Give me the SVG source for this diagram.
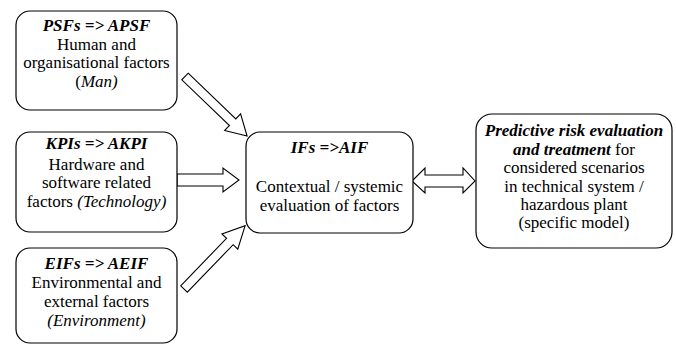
<svg xmlns="http://www.w3.org/2000/svg" width="676" height="345" viewBox="0 0 676 345">
<style>
.box{fill:#fff;stroke:#000;stroke-width:1.2}
.arr{fill:#fff;stroke:#000;stroke-width:1.1;stroke-linejoin:miter}
text{font-family:'Liberation Serif','Times New Roman',serif;font-size:17px;fill:#000;text-anchor:middle}
.bi{font-weight:bold;font-style:italic}
.i{font-style:italic}
</style>
<rect width="676" height="345" fill="#fff"/>
<g id="connectors">
<polygon class="arr" transform="translate(185,76.5) rotate(43.8)" points="0,-4.6 66,-4.6 66,-11.5 86,0 66,11.5 66,4.6 0,4.6"/>
<polygon class="arr" points="177,174 223,174 223,168 239,180 223,192 223,186 177,186"/>
<polygon class="arr" transform="translate(184,289) rotate(-46)" points="0,-4.6 66,-4.6 66,-11 88,0 66,11 66,4.6 0,4.6"/>
<polygon class="arr" points="412,181 425,168 425,175 463,175 463,168 475,181 463,193 463,187 425,187 425,193"/>
</g>
<g id="psf">
<rect class="box" x="16" y="11" width="161" height="99" rx="14"/>
<text x="96.5" y="31"><tspan class="bi">PSFs =&gt; APSF</tspan></text>
<text x="96.5" y="50">Human and</text>
<text x="96.5" y="68">organisational factors</text>
<text x="96.5" y="87">(<tspan class="i">Man)</tspan></text>
</g>
<g id="kpi">
<rect class="box" x="16" y="132" width="161" height="100" rx="14"/>
<text x="96.5" y="149"><tspan class="bi">KPIs =&gt; AKPI</tspan></text>
<text x="96.5" y="170">Hardware and</text>
<text x="96.5" y="188">software related</text>
<text x="96.5" y="207">factors <tspan class="i">(Technology)</tspan></text>
</g>
<g id="eif">
<rect class="box" x="16" y="248" width="161" height="95" rx="14"/>
<text x="96.5" y="269"><tspan class="bi">EIFs =&gt; AEIF</tspan></text>
<text x="96.5" y="288">Environmental and</text>
<text x="96.5" y="307">external factors</text>
<text x="96.5" y="326"><tspan class="i">(Environment)</tspan></text>
</g>
<g id="if">
<rect class="box" x="246" y="132" width="167" height="101" rx="14"/>
<text x="329.5" y="153"><tspan class="bi">IFs =&gt;AIF</tspan></text>
<text x="329.5" y="192">Contextual / systemic</text>
<text x="329.5" y="211">evaluation of factors</text>
</g>
<g id="risk">
<rect class="box" x="476" y="114" width="196" height="134" rx="16"/>
<text x="574" y="136"><tspan class="bi">Predictive risk evaluation</tspan></text>
<text x="574" y="155"><tspan class="bi">and treatment</tspan> for</text>
<text x="574" y="173">considered scenarios</text>
<text x="574" y="192">in technical system /</text>
<text x="574" y="210">hazardous plant</text>
<text x="574" y="228">(specific model)</text>
</g>
</svg>
